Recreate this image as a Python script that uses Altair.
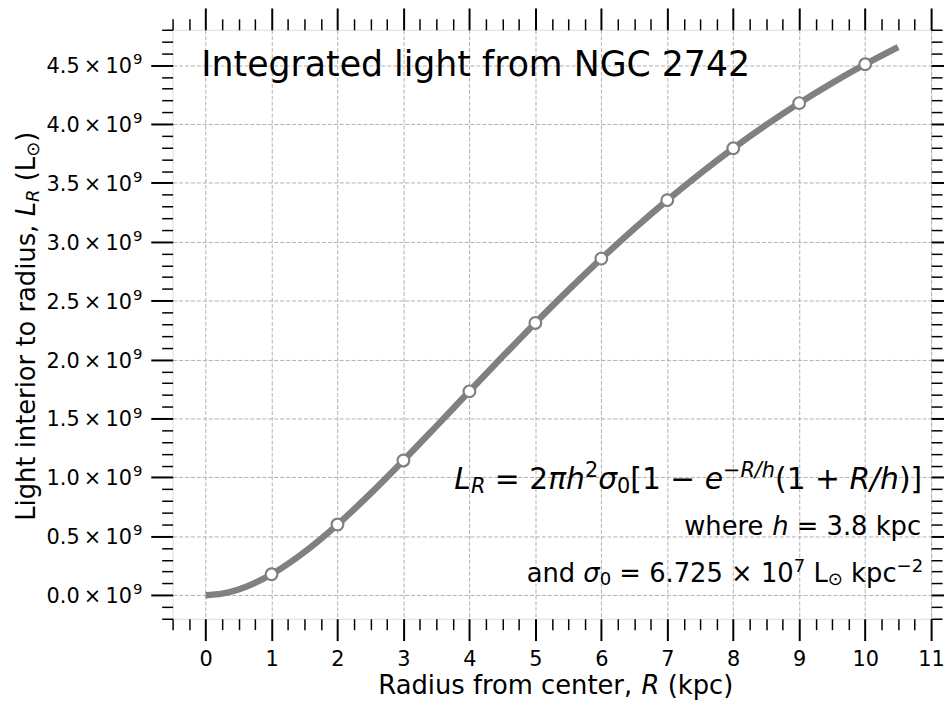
import altair as alt
import pandas as pd

# ---------------- data ----------------
radius_curve = [0.0, 0.25, 0.5, 0.75, 1.0, 1.5, 2.0, 2.5, 3.0, 3.5, 4.0, 4.5,
                5.0, 5.5, 6.0, 6.5, 7.0, 7.5, 8.0, 8.5, 9.0, 9.5, 10.0, 10.5]
light_curve = [0.0, 0.0126e9, 0.0484e9, 0.1044e9, 0.1776e9, 0.3670e9, 0.5997e9,
               0.8621e9, 1.1436e9, 1.4353e9, 1.7305e9, 2.0234e9, 2.3110e9,
               2.5895e9, 2.8570e9, 3.1119e9, 3.3532e9, 3.5806e9, 3.7936e9,
               3.9925e9, 4.1772e9, 4.3485e9, 4.5070e9, 4.6527e9]
marker_radius = [1, 2, 3, 4, 5, 6, 7, 8, 9, 10]
marker_light = [0.1776e9, 0.5997e9, 1.1436e9, 1.7305e9, 2.3110e9, 2.8570e9,
                3.3532e9, 3.7936e9, 4.1772e9, 4.5070e9]

x_major = list(range(0, 12))
y_major = [k * 500_000_000 for k in range(0, 10)]
y_major_labels = ["0.0", "0.5", "1.0", "1.5", "2.0", "2.5", "3.0", "3.5", "4.0", "4.5"]
x_minor = [-0.5 + 0.25 * i for i in range(47) if i % 4 != 2]
y_minor = [k * 100_000_000 for k in range(-2, 49) if k % 5 != 0]

title_text = "Integrated light from NGC 2742"

# ---------------- layout helpers ----------------
W, H = 765, 594
FONT = "DejaVu Sans"
TH = "\u2009"   # thin space
ADV = {' ': 651, TH: 410, '.': 651, ',': 651, '(': 799, ')': 799,
       '[': 799, ']': 799, '/': 690, '=': 1716, '+': 1716, '−': 1716,
       '×': 1716, '⊙': 1716,
       'L': 1141, 'R': 1423, 'I': 604, 'N': 1532, 'G': 1577, 'C': 1430,
       'a': 1255, 'c': 1126, 'd': 1300, 'e': 1260, 'f': 721, 'g': 1300,
       'h': 1298, 'i': 569, 'k': 1186, 'l': 569, 'm': 1995, 'n': 1298,
       'o': 1253, 'p': 1300, 'r': 842, 's': 1067, 't': 803, 'u': 1298,
       'w': 1675, 'π': 1233, 'σ': 1300}
for d in "0123456789":
    ADV[d] = 1303


def tw(text, size):
    return sum(ADV.get(ch, 1200) for ch in text) / 2048.0 * size


one_row = pd.DataFrame({"k": [0]})


def text_run(segs, anchor, base, mode="left", angle=0):
    widths = [tw(t, s) for t, s, _, _ in segs]
    total = sum(widths)
    if mode == "right":
        start = -total
    elif mode == "center":
        start = -total / 2
    else:
        start = 0
    out = []
    pos = start
    for (t, s, it, sh), w in zip(segs, widths):
        body = t.lstrip(" ")
        lead = tw(t[: len(t) - len(body)], s)
        body = body.rstrip(" ")
        p = pos + lead
        if angle == 0:
            px, py = anchor + p, base
        else:
            px, py = base, anchor - p
        if body:
            out.append(
                alt.Chart(one_row).mark_text(
                    text=body, font=FONT, fontSize=s,
                    fontStyle="italic" if it else "normal",
                    align="left", baseline="alphabetic", angle=angle, dy=sh,
                    color="black",
                ).encode(x=alt.value(px), y=alt.value(py))
            )
        pos += w
    return out


# ---------------- scales & axes ----------------
xs = alt.Scale(domain=[-0.5, 11], nice=False, zero=False)
ys = alt.Scale(domain=[-0.2e9, 4.8e9], nice=False, zero=False)

axis_df = pd.DataFrame({"r": marker_radius, "l": marker_light})


def axis_layer(xa, ya):
    return alt.Chart(axis_df).mark_point(opacity=0).encode(
        x=alt.X("r:Q", scale=xs, axis=xa),
        y=alt.Y("l:Q", scale=ys, axis=ya),
    )


common = dict(title=None, domain=False, tickColor="black")
x_bottom = alt.Axis(values=x_major, orient="bottom", grid=True,
                    gridColor="#b0b0b0", gridDash=[4, 2], gridWidth=1,
                    tickSize=22, tickWidth=2, labelFontSize=21,
                    labelColor="black", labelFont=FONT, labelPadding=8,
                    labelFlush=False, labelOverlap=False, format="d", **common)
y_left = alt.Axis(values=y_major, orient="left", grid=True,
                  gridColor="#b0b0b0", gridDash=[4, 2], gridWidth=1,
                  tickSize=22, tickWidth=2, labels=False, **common)
x_bottom_minor = alt.Axis(values=x_minor, orient="bottom", grid=False,
                          labels=False, tickSize=11, tickWidth=1.5, **common)
y_left_minor = alt.Axis(values=y_minor, orient="left", grid=False,
                        labels=False, tickSize=11, tickWidth=1.5, **common)
x_top = alt.Axis(values=x_major, orient="top", grid=False, labels=False,
                 tickSize=22, tickWidth=2, **common)
y_right = alt.Axis(values=y_major, orient="right", grid=False, labels=False,
                   tickSize=22, tickWidth=2, **common)
x_top_minor = alt.Axis(values=x_minor, orient="top", grid=False, labels=False,
                       tickSize=11, tickWidth=1.5, **common)
y_right_minor = alt.Axis(values=y_minor, orient="right", grid=False,
                         labels=False, tickSize=11, tickWidth=1.5, **common)

# ---------------- marks ----------------
curve_df = pd.DataFrame({"r": radius_curve, "l": light_curve})
marker_df = pd.DataFrame({"r": marker_radius, "l": marker_light})

line = alt.Chart(curve_df).mark_line(
    color="#808080", strokeWidth=6.5, interpolate="monotone"
).encode(
    x=alt.X("r:Q", scale=xs, axis=None),
    y=alt.Y("l:Q", scale=ys, axis=None),
)

points = alt.Chart(marker_df).mark_point(
    shape="circle", filled=True, fill="white", stroke="#808080",
    strokeWidth=2.2, size=140, opacity=1,
).encode(
    x=alt.X("r:Q", scale=xs, axis=None),
    y=alt.Y("l:Q", scale=ys, axis=None),
)

# y tick labels "4.5 × 10^9" drawn through the y scale
ylab_df = pd.DataFrame({
    "l": y_major,
    "main": [v + TH + "×" + TH + "10" for v in y_major_labels],
})
ylab_main = alt.Chart(ylab_df).mark_text(
    font=FONT, fontSize=21, align="right", baseline="middle", color="black",
    dy=2,
).encode(
    x=alt.value(-41),
    y=alt.Y("l:Q", scale=ys, axis=None),
    text="main:N",
)
ylab_sup = alt.Chart(ylab_df).mark_text(
    text="9", font=FONT, fontSize=15, align="left", baseline="middle",
    color="black", dy=-6,
).encode(
    x=alt.value(-40),
    y=alt.Y("l:Q", scale=ys, axis=None),
)

# ---------------- texts ----------------
title = alt.Chart(one_row).mark_text(
    text=title_text, font=FONT, fontSize=35, align="left",
    baseline="alphabetic", color="black",
).encode(x=alt.value(29), y=alt.value(47))

F = 30.0
f7 = F * 0.7
formula = [
    ("L", F, True, 0), ("R", f7, True, 4),
    (" = 2", F, False, 0), ("π", F, True, 0), ("h", F, True, 0),
    ("2", f7, False, -12), ("σ", F, True, 0), ("0", f7, False, 4),
    ("[1", F, False, 0), (" −", F, False, 0), (" e", F, True, 0),
    ("−", f7, False, -12),
    ("R/h", f7, True, -12), ("(1", F, False, 0), (" +", F, False, 0),
    (" R/h", F, True, 0), (")]", F, False, 0),
]
S = 26.0
s7 = S * 0.7
where_line = [("where ", S, False, 0), ("h", S, True, 0), (" = 3.8 kpc", S, False, 0)]
and_line = [
    ("and ", S, False, 0), ("σ", S, True, 0), ("0", s7, False, 3.5),
    (" = 6.725 × 10", S, False, 0), ("7", s7, False, -10),
    (" L", S, False, 0), ("⊙", s7, False, 3.5), (" kpc", S, False, 0),
    ("−2", s7, False, -10),
]

XT = 26.0
x_title = [("Radius from center, ", XT, False, 0), ("R", XT, True, 0),
           (" (kpc)", XT, False, 0)]
y_title = [("Light interior to radius, ", S, False, 0), ("L", S, True, 0),
           ("R", s7, True, 4), (" (L", S, False, 0), ("⊙", s7, False, 4),
           (")", S, False, 0)]

texts = []
texts += text_run(formula, 756, 463, mode="right")
texts += text_run(where_line, 755, 510, mode="right")
texts += text_run(and_line, 757, 556.5, mode="right")
texts += text_run(x_title, W / 2 + 4, 670, mode="center")
texts += text_run(y_title, 299, -139, mode="center", angle=270)

layers = [
    axis_layer(x_bottom, y_left),
    axis_layer(x_bottom_minor, y_left_minor),
    axis_layer(x_top, y_right),
    axis_layer(x_top_minor, y_right_minor),
    line, points, ylab_main, ylab_sup, title,
] + texts

chart = alt.layer(*layers).resolve_axis(
    x="independent", y="independent"
).properties(
    width=W, height=H,
    autosize=alt.AutoSizeParams(type="none"),
    padding={"left": 166, "top": 19, "right": 13, "bottom": 80},
).configure_view(
    stroke="black", strokeWidth=1.5
).configure(
    font=FONT
)

chart.save("out.html", embed_options={"renderer": "svg", "actions": False})
